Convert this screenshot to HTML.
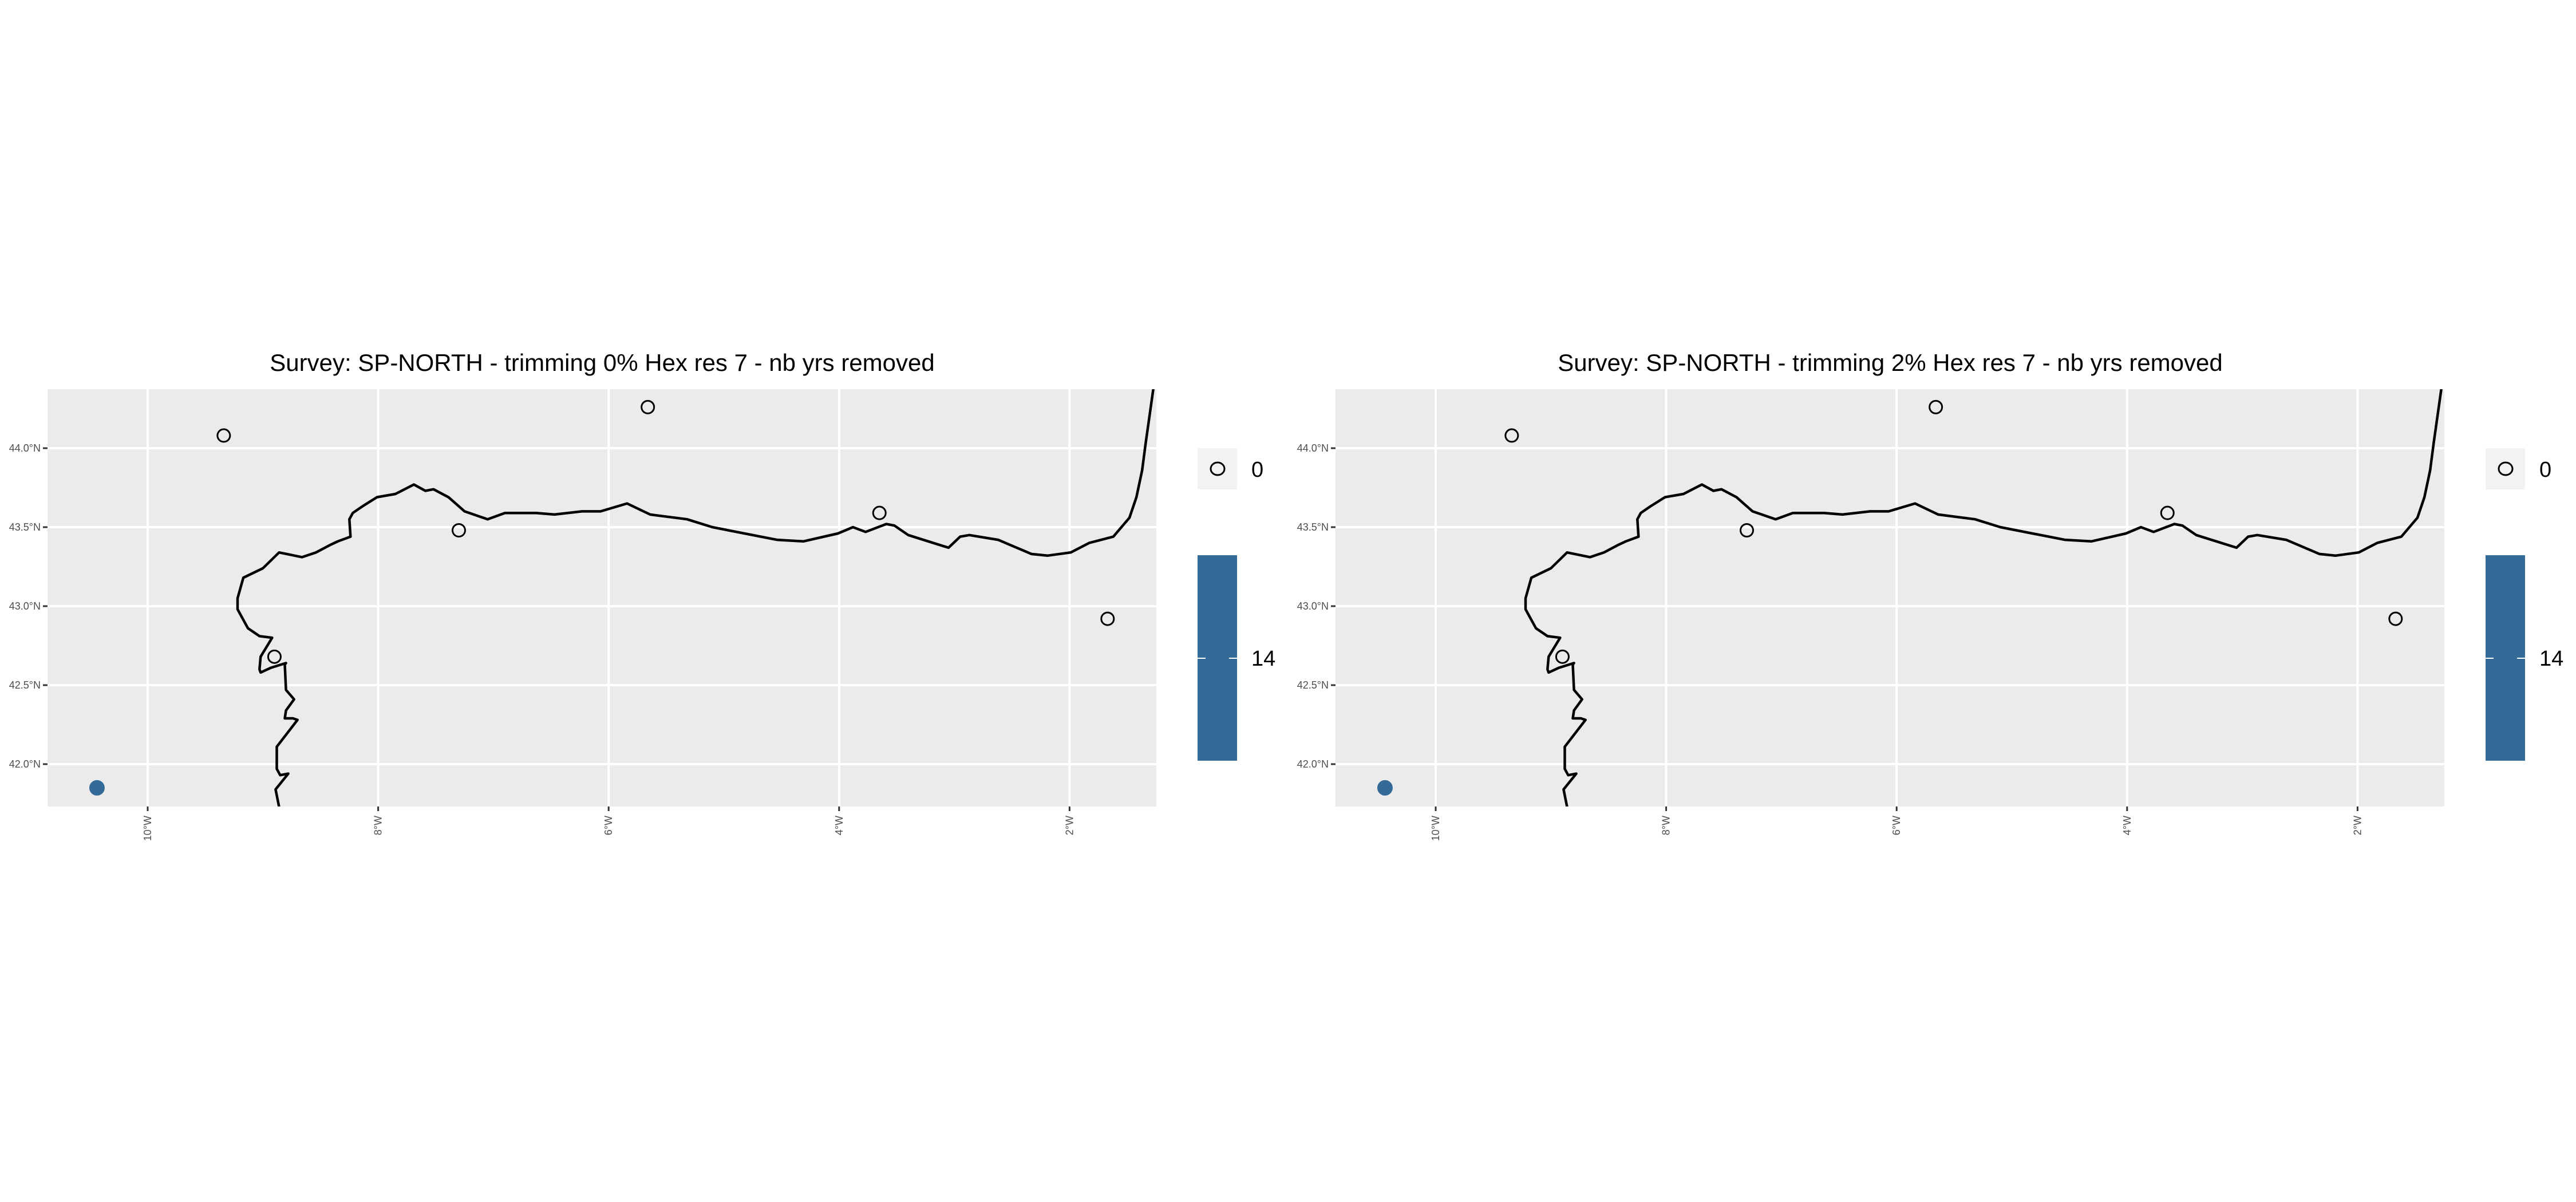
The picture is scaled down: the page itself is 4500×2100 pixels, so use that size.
<!DOCTYPE html>
<html><head><meta charset="utf-8"><style>
html,body{margin:0;padding:0;background:#fff;}
svg{display:block;font-family:"Liberation Sans",sans-serif;}
</style></head><body>
<svg id="root" width="4500" height="2100" viewBox="0 0 4500 2100" xmlns="http://www.w3.org/2000/svg"></svg>
<script>
const titles = ["Survey: SP-NORTH - trimming 0% Hex res 7 - nb yrs removed","Survey: SP-NORTH - trimming 2% Hex res 7 - nb yrs removed"];
const lonTicks = [-10,-8,-6,-4,-2];
const lonLabels = ["10°W","8°W","6°W","4°W","2°W"];
const latTicks = [44.0,43.5,43.0,42.5,42.0];
const latLabels = ["44.0°N","43.5°N","43.0°N","42.5°N","42.0°N"];
const pointLon = [-9.34,-5.66,-7.30,-3.65,-1.67,-8.90,-10.44];
const pointLat = [44.08,44.26,43.48,43.59,42.92,42.68,41.85];
const pointVal = [0,0,0,0,0,0,14];
const coastLon = [-8.86,-8.89,-8.78,-8.85,-8.88,-8.88,-8.70,-8.74,-8.81,-8.80,-8.73,-8.80,-8.81,-8.80,-8.93,-9.02,-9.03,-9.02,-8.92,-9.03,-9.13,-9.22,-9.22,-9.17,-9.00,-8.86,-8.66,-8.54,-8.41,-8.35,-8.24,-8.25,-8.22,-8.14,-8.01,-7.85,-7.69,-7.59,-7.52,-7.39,-7.25,-7.05,-6.90,-6.63,-6.47,-6.23,-6.07,-5.84,-5.64,-5.32,-5.10,-4.54,-4.31,-4.01,-3.88,-3.77,-3.59,-3.52,-3.40,-3.05,-2.95,-2.87,-2.62,-2.33,-2.19,-1.99,-1.83,-1.62,-1.48,-1.42,-1.37,-1.34,-1.27];
const coastLat = [41.73,41.84,41.94,41.93,41.97,42.11,42.28,42.29,42.29,42.34,42.41,42.47,42.63,42.64,42.61,42.58,42.60,42.68,42.80,42.81,42.86,42.98,43.05,43.18,43.24,43.34,43.31,43.34,43.39,43.41,43.44,43.55,43.59,43.63,43.69,43.71,43.77,43.73,43.74,43.69,43.60,43.55,43.59,43.59,43.58,43.60,43.60,43.65,43.58,43.55,43.50,43.42,43.41,43.46,43.50,43.47,43.52,43.51,43.45,43.37,43.44,43.45,43.42,43.33,43.32,43.34,43.40,43.44,43.56,43.69,43.86,44.03,44.39];
const legendLabels = ["0","14"];

const NS="http://www.w3.org/2000/svg";
const root=document.getElementById('root');
function mk(tag,attrs,parent,txt){const e=document.createElementNS(NS,tag);for(const k in attrs)e.setAttribute(k,attrs[k]);if(txt!==undefined)e.textContent=txt;parent.appendChild(e);return e;}
const PX0=83,PX1=2020,PY0=680,PY1=1409;
function xs(lon){return 258+(lon+10)*201.3;}
function ys(lat){return 783+(44-lat)*276;}

titles.forEach((t,pi)=>{
  const off=pi*2250;
  const g=mk('g',{transform:`translate(${off},0)`},root);
  
  
  const ti=mk('text',{x:1052,y:648,'font-size':42,'text-anchor':'middle',fill:'#000'},g,t);
  
  
  const bg=mk('rect',{x:PX0,y:PY0,width:PX1-PX0,height:PY1-PY0,fill:'#ebebeb'},g);
  
  
  const cid='clip'+pi;
  const cp=mk('clipPath',{id:cid},g);mk('rect',{x:PX0,y:PY0,width:PX1-PX0,height:PY1-PY0},cp);
  lonTicks.forEach((lon,i)=>{
    const x=xs(lon);
    const gl=mk('line',{x1:x,x2:x,y1:PY0,y2:PY1,stroke:'#fff','stroke-width':4},g);
    
    
    mk('line',{x1:x,x2:x,y1:PY1,y2:PY1+8,stroke:'#333','stroke-width':3},g);
    const lb=mk('text',{x:0,y:0,'font-size':18,fill:'#4d4d4d','text-anchor':'end',transform:`translate(${x+6},${PY1+16}) rotate(-90)`},g,lonLabels[i]);
    
    
  });
  latTicks.forEach((lat,i)=>{
    const y=ys(lat);
    const gl=mk('line',{x1:PX0,x2:PX1,y1:y,y2:y,stroke:'#fff','stroke-width':4},g);
    
    
    mk('line',{x1:PX0-8,x2:PX0,y1:y,y2:y,stroke:'#333','stroke-width':3},g);
    const lb=mk('text',{x:PX0-12,y:y+6,'font-size':18,fill:'#4d4d4d','text-anchor':'end'},g,latLabels[i]);
    
    
  });
  const cg=mk('g',{'clip-path':`url(#${cid})`},g);
  const pts=coastLon.map((lon,i)=>xs(lon).toFixed(1)+','+ys(coastLat[i]).toFixed(1)).join(' ');
  const coast=mk('polyline',{points:pts,fill:'none',stroke:'#000','stroke-width':4.5,'stroke-linejoin':'round'},cg);
  
  
  pointLon.forEach((lon,i)=>{
    const filled=pointVal[i]>0;
    const c=mk('circle',{cx:xs(lon),cy:ys(pointLat[i]),r:filled?12:11,fill:filled?'#336a98':'none',stroke:filled?'#336a98':'#000','stroke-width':3},cg);
    
    
  });
  const lk=mk('rect',{x:2092,y:783,width:69,height:72,fill:'#f2f2f2'},g);
  
  
  mk('ellipse',{cx:2127,cy:819,rx:12,ry:11,fill:'none',stroke:'#000','stroke-width':3},g);
  const l0=mk('text',{x:2186,y:833,'font-size':38,fill:'#000'},g,legendLabels[0]);
  
  
  const cb=mk('rect',{x:2092,y:970,width:69,height:359,fill:'#336a98'},g);
  
  
  mk('line',{x1:2092,x2:2106,y1:1150,y2:1150,stroke:'#fff','stroke-width':2},g);
  mk('line',{x1:2147,x2:2161,y1:1150,y2:1150,stroke:'#fff','stroke-width':2},g);
  const l1=mk('text',{x:2186,y:1163,'font-size':38,fill:'#000'},g,legendLabels[1]);
  
  
});
</script>
</body></html>
